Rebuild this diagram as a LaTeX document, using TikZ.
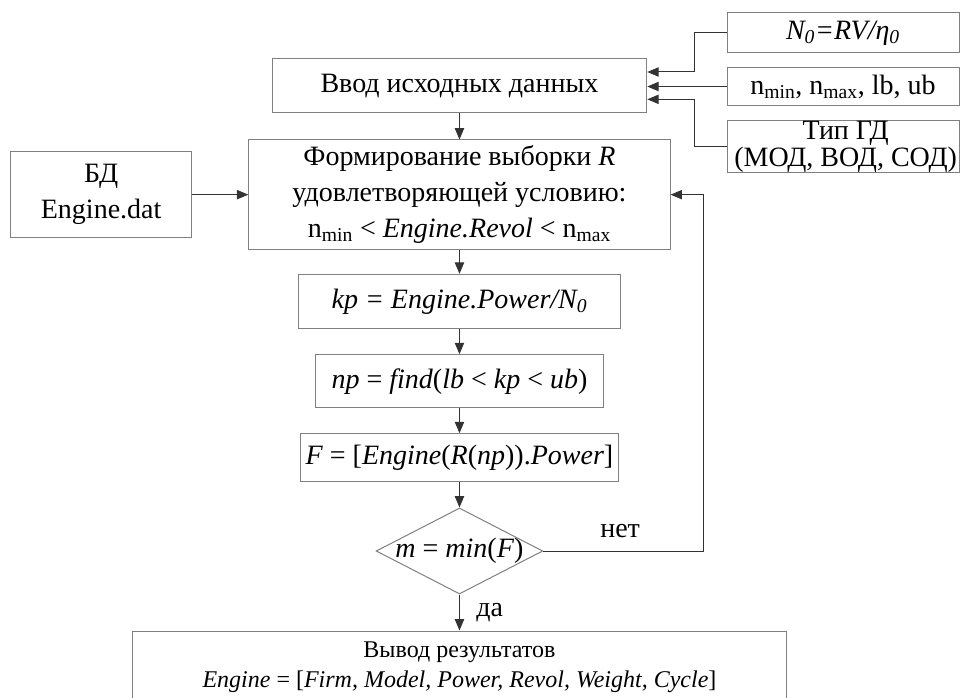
\documentclass[tikz,border=0pt]{standalone}
\usepackage{fontspec}
\setmainfont{Liberation Serif}
\usetikzlibrary{shapes,arrows.meta,positioning,calc}

\begin{document}
\begin{tikzpicture}[
  node distance=20pt,
  every node/.style={font=\fontsize{21}{27}\selectfont},
  blok/.style={rectangle, draw=black!50, line width=0.75pt, align=center, inner sep=0pt},
  vhod/.style={blok, minimum width=174pt},
  romb/.style={diamond, draw=black!50, line width=0.75pt, inner sep=0pt, minimum width=125pt, minimum height=64.5pt, aspect=1.94},
  arrow/.style={-{Triangle[length=8.5pt, width=7pt]}, line width=0.75pt, draw=black!80}
]
  \useasboundingbox (0,0) rectangle (720pt,-523.5pt);

  % main column
  \node[blok, minimum width=281pt, minimum height=40.5pt] (vvod) at (344.6pt,-64.5pt) {Ввод исходных данных};
  \node[blok, minimum width=316pt, minimum height=82pt, below=19.5pt of vvod] (form)
    {Формирование выборки \textit{R}\\ удовлетворяющей условию:\\ n\textsubscript{min} < \textit{Engine.Revol} < n\textsubscript{max}};
  \node[blok, minimum width=241.5pt, minimum height=40.5pt, below=18pt of form] (kp)
    {\textit{kp = Engine.Power/N\textsubscript{0}}};
  \node[blok, minimum width=216pt, minimum height=40pt, below=19pt of kp] (np)
    {\textit{np} = \textit{find}(\textit{lb} < \textit{kp} < \textit{ub})};
  \node[blok, minimum width=239pt, minimum height=36pt, below=18.5pt of np] (ff)
    {\textit{F} = [\textit{Engine}(\textit{R}(\textit{np})).\textit{Power}]};
  \node[romb, below=19pt of ff, label=center:{\textit{m} = \textit{min}(\textit{F})}] (usl) {};
  \node[blok, minimum width=490.5pt, minimum height=54.5pt, below=27pt of usl,
        font=\fontsize{18}{22}\selectfont] (vyvod)
    {Вывод результатов\\ \textit{Engine} = [\textit{Firm, Model, Power, Revol, Weight, Cycle}]};

  % database
  \node[blok, minimum width=136pt, minimum height=64pt, left=42pt of form] (bd) {БД\\ Engine.dat};

  % input data
  \node[vhod, minimum height=30pt] (n0) at (632.25pt,-24.75pt) {\textit{N\textsubscript{0}=RV/η\textsubscript{0}}};
  \node[vhod, minimum height=29pt] (lim) at (632.25pt,-64.9pt)
    {n\textsubscript{min}, n\textsubscript{max}, lb, ub};
  \node[vhod, minimum height=39pt, font=\fontsize{21}{16}\selectfont] (tip) at (632.25pt,-110.25pt)
    {\hspace*{4pt}Тип ГД\\ \hspace*{4pt}(МОД, ВОД, СОД)};

  \draw[arrow] (n0.west) -- ++(-24pt,0) |- ([yshift=10.5pt]vvod.east);
  \draw[arrow] (lim.west) -- (lim.west -| vvod.east);
  \draw[arrow] (tip.west) -- ++(-24pt,0) |- ([yshift=-10pt]vvod.east);

  \draw[arrow] (vvod) -- (form);
  \draw[arrow] (bd.east) -- (bd.east -| form.west);
  \draw[arrow] (form) -- (kp);
  \draw[arrow] (kp) -- (np);
  \draw[arrow] (np) -- (ff);
  \draw[arrow] (ff) -- (usl);
  \draw[arrow] (usl) -- node[right, xshift=9pt] {да} (vyvod);
  \draw[arrow] (usl.east) -- node[above, pos=0.48, yshift=6.5pt] {нет} ++(120pt,0) |- (form.east);
\end{tikzpicture}
\end{document}
